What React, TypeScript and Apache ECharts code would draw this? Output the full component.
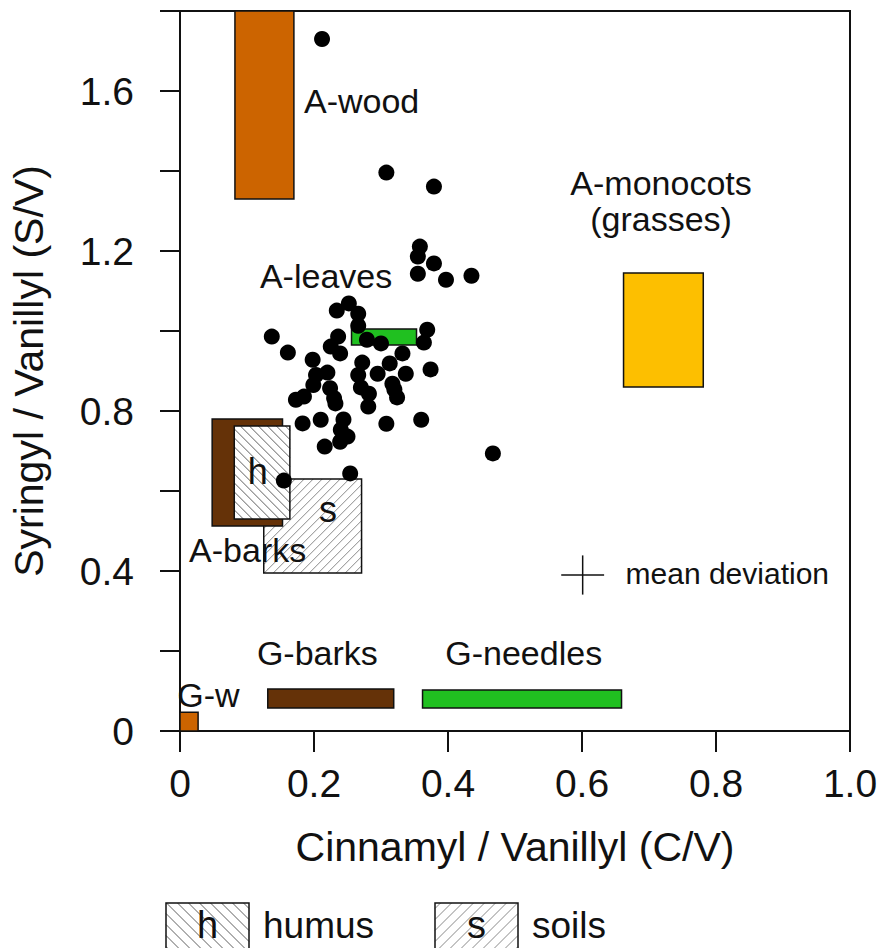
import React, { useEffect, useRef } from 'react';
import * as echarts from 'echarts';

// single samples: cinnamyl/vanillyl (x) and syringyl/vanillyl (y)
const sampleCV = [
  0.212, 0.308, 0.379, 0.358, 0.355, 0.379, 0.355, 0.397, 0.435,
  0.252, 0.234, 0.266, 0.266, 0.369, 0.137, 0.236, 0.279, 0.300, 0.364,
  0.225, 0.161, 0.239, 0.332, 0.198, 0.272, 0.313, 0.374, 0.220, 0.203,
  0.295, 0.337, 0.266, 0.199, 0.317, 0.270, 0.224, 0.282, 0.320, 0.185,
  0.173, 0.230, 0.324, 0.232, 0.281, 0.183, 0.210, 0.244, 0.308, 0.360,
  0.240, 0.250, 0.239, 0.216, 0.467, 0.254, 0.155,
];
const sampleSV = [
  1.73, 1.396, 1.361, 1.211, 1.186, 1.169, 1.143, 1.128, 1.138,
  1.069, 1.051, 1.043, 1.013, 1.003, 0.986, 0.986, 0.978, 0.969, 0.971,
  0.961, 0.946, 0.944, 0.944, 0.928, 0.921, 0.919, 0.904, 0.896, 0.89,
  0.893, 0.893, 0.89, 0.865, 0.868, 0.859, 0.857, 0.843, 0.854, 0.836,
  0.828, 0.832, 0.834, 0.819, 0.811, 0.769, 0.778, 0.779, 0.768, 0.778,
  0.753, 0.736, 0.723, 0.711, 0.694, 0.644, 0.626,
];

// source ranges: [C/V min, C/V max, S/V min, S/V max]
const sourceNames = ['soils', 'A-barks', 'humus', 'A-wood', 'A-monocots', 'A-leaves', 'G-w', 'G-barks', 'G-needles'];
const sourceRanges = [
  [0.125, 0.271, 0.395, 0.63],
  [0.048, 0.153, 0.5125, 0.78],
  [0.081, 0.164, 0.53, 0.7625],
  [0.082, 0.17, 1.33, 1.8],
  [0.662, 0.781, 0.86, 1.145],
  [0.256, 0.353, 0.965, 1.005],
  [0.0, 0.027, 0.0, 0.047],
  [0.131, 0.319, 0.0575, 0.105],
  [0.362, 0.659, 0.0575, 0.1025],
];

const annotations = ['A-wood', 'A-monocots', '(grasses)', 'A-leaves', 'A-barks', 'h', 's', 'G-w', 'G-barks', 'G-needles', 'mean deviation'];
const annotationCV = [0.185, 0.718, 0.718, 0.218, 0.101, 0.116, 0.221, 0.0425, 0.205, 0.513, 0.665];
const annotationSV = [1.575, 1.37, 1.28, 1.1375, 0.4525, 0.65, 0.555, 0.09, 0.195, 0.195, 0.395];

// mean deviation cross: centre and half spread (C/V, S/V)
const meanDevCenter = [0.601, 0.39];
const meanDevSpread = [0.032, 0.049];

const FONT = '"Liberation Sans", Arial, Helvetica, sans-serif';
const INK = '#111111';

const FILL: Record<string, string> = {
  'A-wood': '#cc6400',
  'G-w': '#cc6400',
  'A-barks': '#653208',
  'G-barks': '#653208',
  'A-leaves': '#20c020',
  'G-needles': '#20c020',
  'A-monocots': '#fdbf00',
  soils: '#ffffff',
  humus: '#ffffff',
};
const HATCH: Record<string, '/' | '\\'> = { soils: '/', humus: '\\' };
const HATCH_COLOR: Record<string, string> = { soils: '#8a8a8a', humus: '#606060' };

const hatchLines = (x0: number, y0: number, x1: number, y1: number, step: number, dir: '/' | '\\') => {
  const out: { x1: number; y1: number; x2: number; y2: number }[] = [];
  if (dir === '\\') {
    for (let c = y0 - x1 + step / 2; c < y1 - x0; c += step) {
      const xa = Math.max(x0, y0 - c);
      const xb = Math.min(x1, y1 - c);
      if (xb > xa) out.push({ x1: xa, y1: xa + c, x2: xb, y2: xb + c });
    }
  } else {
    for (let c = x0 + y0 + step / 2; c < x1 + y1; c += step) {
      const xa = Math.max(x0, c - y1);
      const xb = Math.min(x1, c - y0);
      if (xb > xa) out.push({ x1: xa, y1: c - xa, x2: xb, y2: c - xb });
    }
  }
  return out;
};

const hatchBox = (x: number, y: number, w: number, h: number, dir: '/' | '\\', color: string, step: number) => [
  { type: 'rect', shape: { x, y, width: w, height: h }, style: { fill: '#fff', stroke: 'none' } },
  ...hatchLines(x, y, x + w, y + h, step, dir).map((s) => ({
    type: 'line',
    shape: s,
    style: { stroke: color, lineWidth: 1 },
  })),
  { type: 'rect', shape: { x, y, width: w, height: h }, style: { fill: 'none', stroke: INK, lineWidth: 1.5 } },
];

const textStyle = (text: string, size: number, align: string) => ({
  text,
  fill: INK,
  fontSize: size,
  fontFamily: FONT,
  textAlign: align,
  textVerticalAlign: 'middle',
  align,
  verticalAlign: 'middle',
});

const legendElements = () => {
  const items = [
    { x: 166, key: 'humus', letter: 'h', label: 'humus' },
    { x: 435, key: 'soils', letter: 's', label: 'soils' },
  ];
  const els: any[] = [];
  items.forEach((it) => {
    hatchBox(it.x, 903, 83, 60, HATCH[it.key], HATCH_COLOR[it.key], 11).forEach((e) => els.push(e));
    els.push({ type: 'text', x: it.x + 41.5, y: 925, style: textStyle(it.letter, 38, 'center') });
    els.push({ type: 'text', x: it.x + 97, y: 925, style: textStyle(it.label, 37, 'left') });
  });
  return els;
};

const option = {
  animation: false,
  backgroundColor: '#ffffff',
  grid: {
    left: 179,
    top: 11,
    width: 671,
    height: 720,
    show: true,
    borderColor: INK,
    borderWidth: 2,
    backgroundColor: 'transparent',
  },
  xAxis: {
    type: 'value',
    min: 0,
    max: 1,
    interval: 0.2,
    name: 'Cinnamyl / Vanillyl (C/V)',
    nameLocation: 'middle',
    nameGap: 95,
    nameTextStyle: { fontSize: 41, fontFamily: FONT, color: INK },
    axisLine: { show: true, onZero: false, lineStyle: { color: INK, width: 2 } },
    axisTick: { show: true, length: 21, lineStyle: { color: INK, width: 2 } },
    axisLabel: {
      margin: 33,
      fontSize: 39,
      fontFamily: FONT,
      color: INK,
      showMinLabel: true,
      showMaxLabel: true,
      formatter: (v: number) => (v === 0 ? '0' : v.toFixed(1)),
    },
    splitLine: { show: false },
  },
  yAxis: {
    type: 'value',
    min: 0,
    max: 1.8,
    interval: 0.2,
    name: 'Syringyl / Vanillyl (S/V)',
    nameLocation: 'middle',
    nameGap: 131,
    nameTextStyle: { fontSize: 41, fontFamily: FONT, color: INK },
    axisLine: { show: true, onZero: false, lineStyle: { color: INK, width: 2 } },
    axisTick: { show: true, length: 20, lineStyle: { color: INK, width: 2 } },
    axisLabel: {
      margin: 46,
      fontSize: 39,
      fontFamily: FONT,
      color: INK,
      showMinLabel: true,
      showMaxLabel: true,
      formatter: (v: number) => {
        const k = Math.round(v * 10);
        if (k % 4 !== 0) return '';
        return k === 0 ? '0' : v.toFixed(1);
      },
    },
    splitLine: { show: false },
  },
  graphic: { elements: legendElements() },
  series: [
    {
      type: 'custom',
      name: 'sources',
      z: 1,
      encode: { x: [0, 1], y: [2, 3] },
      data: sourceRanges,
      renderItem: (params: any, api: any) => {
        const name = sourceNames[params.dataIndex];
        const tl = api.coord([api.value(0), api.value(3)]);
        const br = api.coord([api.value(1), api.value(2)]);
        const x = tl[0];
        const y = tl[1];
        const w = br[0] - tl[0];
        const h = br[1] - tl[1];
        if (HATCH[name]) {
          return { type: 'group', children: hatchBox(x, y, w, h, HATCH[name], HATCH_COLOR[name], 9) };
        }
        return {
          type: 'rect',
          shape: { x, y, width: w, height: h },
          style: { fill: FILL[name], stroke: INK, lineWidth: 1.5 },
        };
      },
    },
    {
      type: 'scatter',
      name: 'samples',
      z: 3,
      symbol: 'circle',
      symbolSize: 16,
      itemStyle: { color: '#000000', opacity: 1 },
      data: sampleCV.map((x, i) => [x, sampleSV[i]]),
    },
    {
      type: 'custom',
      name: 'labels',
      z: 4,
      data: annotationCV.map((x, i) => [x, annotationSV[i]]),
      renderItem: (params: any, api: any) => {
        const text = annotations[params.dataIndex];
        const p = api.coord([api.value(0), api.value(1)]);
        const left = text === 'A-wood' || text === 'mean deviation';
        const size = text === 'mean deviation' ? 30 : text.length === 1 ? 36 : 34;
        return { type: 'text', x: p[0], y: p[1], style: textStyle(text, size, left ? 'left' : 'center') };
      },
    },
    {
      type: 'custom',
      name: 'mean deviation',
      z: 4,
      data: [[meanDevCenter[0], meanDevCenter[1], meanDevSpread[0], meanDevSpread[1]]],
      renderItem: (params: any, api: any) => {
        const cx = api.value(0);
        const cy = api.value(1);
        const dx = api.value(2);
        const dy = api.value(3);
        const l = api.coord([cx - dx, cy]);
        const r = api.coord([cx + dx, cy]);
        const t = api.coord([cx, cy + dy]);
        const b = api.coord([cx, cy - dy]);
        const st = { stroke: INK, lineWidth: 1.5 };
        return {
          type: 'group',
          children: [
            { type: 'line', shape: { x1: l[0], y1: l[1], x2: r[0], y2: r[1] }, style: st },
            { type: 'line', shape: { x1: t[0], y1: t[1], x2: b[0], y2: b[1] }, style: st },
          ],
        };
      },
    },
  ],
};

export default function App() {
  const chartRef = useRef<HTMLDivElement>(null);

  useEffect(() => {
    if (!chartRef.current) return;
    const chart = echarts.init(chartRef.current, undefined, { renderer: 'svg' });
    chart.setOption(option as any);
    return () => {
      chart.dispose();
    };
  }, []);

  return (
    <div
      ref={chartRef}
      style={{ position: 'absolute', left: 0, top: 0, width: 883, height: 948, background: '#fff' }}
    />
  );
}
